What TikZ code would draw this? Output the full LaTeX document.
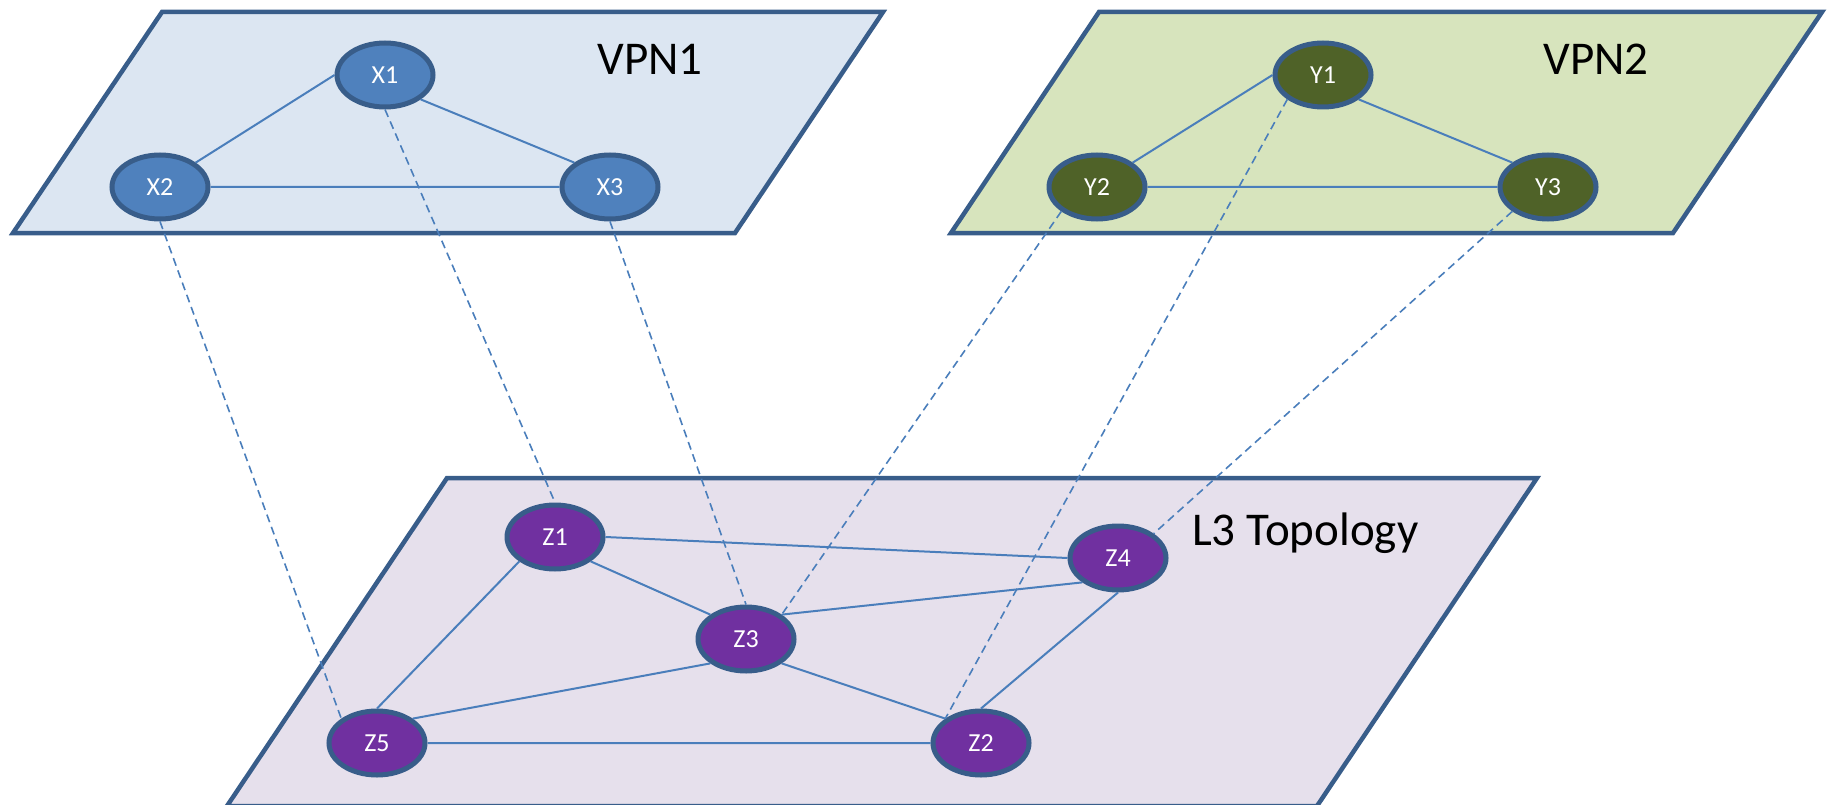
\documentclass[tikz,border=0pt]{standalone}
\usepackage{fontspec}
\setmainfont{Carlito}
\usetikzlibrary{shapes.geometric}

\definecolor{rim}{HTML}{385D8A}
\definecolor{wire}{HTML}{4A7EBB}
\definecolor{vpnone}{HTML}{DCE6F2}
\definecolor{vpntwo}{HTML}{D7E4BD}
\definecolor{lthree}{HTML}{E6E0EC}
\definecolor{xfill}{HTML}{4F81BD}
\definecolor{yfill}{HTML}{4F6228}
\definecolor{zfill}{HTML}{7030A0}

\tikzset{
  plane/.style={draw=rim, line width=4.5pt},
  router/.style={ellipse, draw=rim, line width=5pt, inner sep=0pt,
    minimum width=96pt, minimum height=64pt, text=white,
    font=\fontsize{26pt}{30pt}\selectfont},
  xr/.style={router, fill=xfill},
  yr/.style={router, fill=yfill},
  zr/.style={router, fill=zfill},
  link/.style={draw=wire, line width=2pt},
  map/.style={draw=wire, line width=1.6pt, dash pattern=on 8pt off 5pt},
  title/.style={font=\fontsize{47pt}{52pt}\selectfont, text=black, inner sep=0pt, anchor=base}
}

\begin{document}
\begin{tikzpicture}[x=1pt, y=-1pt]
  \useasboundingbox (0,0) rectangle (1830,805);

  % layer planes
  \draw[plane, fill=vpnone] (162,12) -- (883,12) -- (735,233) -- (13,233) -- cycle;
  \draw[plane, fill=vpntwo] (1099,12) -- (1822,12) -- (1673,233) -- (951,233) -- cycle;
  \draw[plane, fill=lthree] (447,478) -- (1537,478) -- (1317,806) -- (227,806) -- cycle;

  % layer titles
  \node[title] (t1) at (650,75) {VPN1};
  \node[title] (t2) at (1596,75) {VPN2};
  \node[title, anchor=base west] (t3) at (1192,545) {L3 Topology};

  % routers
  \node[xr] (X1) at (385,75) {X1};
  \node[xr] (X2) at (160,187) {X2};
  \node[xr] (X3) at (610,187) {X3};
  \node[yr] (Y1) at (1323,75) {Y1};
  \node[yr] (Y2) at (1097,187) {Y2};
  \node[yr] (Y3) at (1548,187) {Y3};
  \node[zr] (Z1) at (555,537) {Z1};
  \node[zr] (Z2) at (981,743) {Z2};
  \node[zr] (Z3) at (746,639) {Z3};
  \node[zr] (Z4) at (1118,558) {Z4};
  \node[zr] (Z5) at (377,743) {Z5};

  % links inside each layer
  \path[link] (X1.west) -- (X2.north east)
              (X1.south east) -- (X3.north west)
              (X2.east) -- (X3.west);
  \path[link] (Y1.west) -- (Y2.north east)
              (Y1.south east) -- (Y3.north west)
              (Y2.east) -- (Y3.west);
  \path[link] (Z1.east) -- (Z4.west)
              (Z1.south east) -- (Z3.north west)
              (Z1.south west) -- (Z5.north)
              (Z3.north east) -- (Z4.south west)
              (Z3.south west) -- (Z5.north east)
              (Z3.south east) -- (Z2.north west)
              (Z4.south) -- (Z2.north)
              (Z5.east) -- (Z2.west);

  % mappings of virtual routers onto the L3 topology
  \path[map] (X2.south) -- (Z5.north west)
             (X1.south) -- (Z1.north)
             (X3.south) -- (Z3.north)
             (Y2.south west) -- (Z3.north east)
             (Y1.south west) -- (Z2.north west)
             (Y3.south west) -- (Z4.north east);
\end{tikzpicture}
\end{document}
